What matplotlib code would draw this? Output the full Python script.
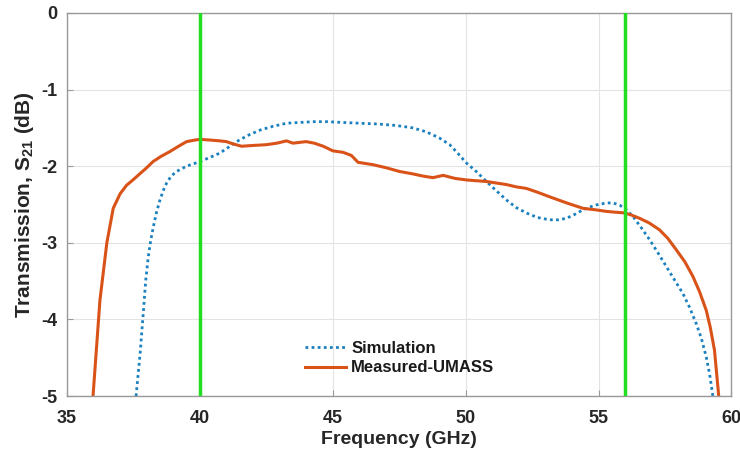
import matplotlib
matplotlib.use("Agg")
import matplotlib.pyplot as plt
import numpy as np

plt.rcParams['font.family'] = ['Liberation Sans', 'DejaVu Sans']
plt.rcParams['mathtext.fontset'] = 'custom'
plt.rcParams['mathtext.rm'] = 'Liberation Sans:bold'
plt.rcParams['mathtext.bf'] = 'Liberation Sans:bold'
plt.rcParams['mathtext.default'] = 'bf'
plt.rcParams['axes.unicode_minus'] = False

# Measured-UMASS (orange solid)
meas_f = [35.98, 36.24, 36.5, 36.74, 37.0, 37.24, 37.48, 37.74, 38.0, 38.24, 38.55, 38.87,
          39.2, 39.5, 39.8, 40.0, 40.4, 40.75, 41.0, 41.25, 41.57, 42.0, 42.5, 42.9, 43.26,
          43.5, 44.0, 44.3, 44.64, 45.0, 45.39, 45.7, 45.95, 46.5, 47.0, 47.52, 48.0, 48.4,
          48.77, 49.15, 49.6, 50.03, 50.4, 50.78, 51.15, 51.53, 51.9, 52.28, 52.7, 53.16,
          53.8, 54.41, 54.9, 55.29, 55.6, 55.98, 56.25, 56.54, 56.9, 57.29, 57.6, 57.92,
          58.25, 58.55, 58.8, 59.05, 59.2, 59.36, 59.52]
meas_s21 = [-5.0, -3.75, -3.0, -2.55, -2.36, -2.25, -2.18, -2.1, -2.02, -1.94, -1.87, -1.81,
            -1.74, -1.68, -1.66, -1.65, -1.66, -1.67, -1.68, -1.71, -1.74, -1.73, -1.72, -1.70, -1.67,
            -1.70, -1.68, -1.70, -1.74, -1.80, -1.82, -1.86, -1.95, -1.98, -2.02, -2.07, -2.10, -2.13,
            -2.15, -2.12, -2.16, -2.18, -2.19, -2.20, -2.22, -2.24, -2.27, -2.29, -2.34, -2.40,
            -2.48, -2.55, -2.57, -2.59, -2.60, -2.61, -2.64, -2.68, -2.74, -2.83, -2.94, -3.09,
            -3.25, -3.44, -3.64, -3.88, -4.1, -4.40, -5.0]

# Simulation (blue dotted)
sim_f = [37.6, 37.75, 37.87, 37.96, 38.06, 38.15, 38.25, 38.37, 38.5, 38.62, 38.75, 38.92,
         39.12, 39.5, 40.0, 40.35, 40.75, 41.05, 41.38, 41.8, 42.26, 42.75, 43.26, 43.75,
         44.26, 44.8, 45.39, 46.0, 46.7, 47.4, 48.0, 48.5, 49.0, 49.4, 49.7, 50.03, 50.4,
         50.78, 51.15, 51.53, 51.9, 52.28, 52.7, 53.16, 53.5, 53.79, 54.1, 54.41, 54.85,
         55.29, 55.55, 55.8, 56.05, 56.3, 56.6, 56.92, 57.25, 57.55, 57.85, 58.17, 58.42,
         58.67, 58.87, 59.05, 59.18, 59.3]
sim_s21 = [-5.0, -4.45, -3.92, -3.5, -3.18, -2.97, -2.79, -2.6, -2.44, -2.32, -2.22, -2.13,
           -2.07, -2.0, -1.94, -1.89, -1.83, -1.76, -1.68, -1.60, -1.53, -1.48, -1.44, -1.43,
           -1.42, -1.42, -1.43, -1.44, -1.45, -1.47, -1.50, -1.55, -1.63, -1.72, -1.83, -1.96, -2.07,
           -2.20, -2.32, -2.44, -2.54, -2.61, -2.67, -2.70, -2.70, -2.68, -2.63, -2.57, -2.51,
           -2.48, -2.48, -2.51, -2.57, -2.66, -2.80, -2.96, -3.14, -3.31, -3.48, -3.66, -3.84,
           -4.05, -4.25, -4.49, -4.72, -5.0]

band_edges = [40, 56]
xticks = [35, 40, 45, 50, 55, 60]
yticks = [0, -1, -2, -3, -4, -5]

fig = plt.figure(figsize=(7.4, 4.59), dpi=100)
ax = fig.add_axes([0.0905, 0.137, 0.898, 0.835])

ax.plot(sim_f, sim_s21, linestyle=(0, (1, 1.2)), color='#1a80c0', linewidth=2.0, label='Simulation')
ax.plot(meas_f, meas_s21, linestyle='-', color='#d95319', linewidth=2.2, label='Measured-UMASS')
for b in band_edges:
    ax.axvline(b, color='#22dd22', linewidth=2.5, zorder=3)

ax.set_xlim(35, 60)
ax.set_ylim(-5, 0)
ax.set_xticks(xticks)
ax.set_yticks(yticks)
ax.grid(True, color='#e3e3e3', linewidth=0.8)
ax.set_axisbelow(True)
for s in ax.spines.values():
    s.set_color('#999999')
    s.set_linewidth(1.0)
ax.tick_params(direction='in', length=4, color='#999999', labelsize=13, labelcolor='#262626',
               top=False, right=False)
ax.tick_params(axis='x', pad=10)
ax.tick_params(axis='y', pad=7)
for lbl in ax.get_xticklabels() + ax.get_yticklabels():
    lbl.set_fontweight('bold')

ax.set_xlabel('Frequency (GHz)', fontsize=14, fontweight='bold', color='#262626', labelpad=3)
ax.set_ylabel(r'Transmission, S$_{21}$ (dB)', fontsize=15, fontweight='bold', color='#262626', labelpad=4)

leg = ax.legend(loc='lower left', bbox_to_anchor=(0.335, 0.015), frameon=False,
                prop={'weight': 'bold', 'size': 12}, handlelength=2.5, handletextpad=0.3,
                labelspacing=0.25)
for t in leg.get_texts():
    t.set_color('#1a1a1a')

fig.savefig('out.png', dpi=100)
